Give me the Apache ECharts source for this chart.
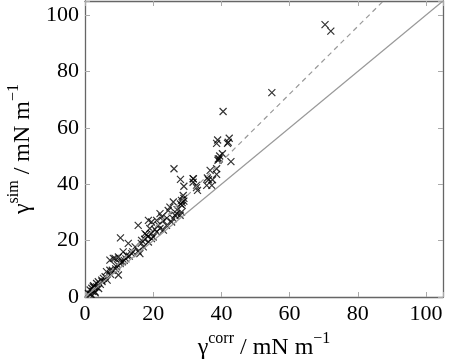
<!DOCTYPE html>
<html>
<head>
<meta charset="utf-8">
<script src="https://cdn.jsdelivr.net/npm/echarts@6/dist/echarts.min.js"></script>
<style>
  html, body { margin: 0; padding: 0; background: #fff; }
  #chart { width: 449px; height: 363px; }
</style>
</head>
<body>
<div id="chart"></div>
<script>
// scatter points: gamma corr (x) vs gamma sim (y), mN/m
var corrVals = [70.4, 72.1, 54.8, 40.5, 38.9, 42.3, 38.6, 41.8, 40.3, 39.4, 42.8, 36.7, 38.6, 38.6,
  35.9, 31.7, 31.7, 35.7, 37.2, 32.7, 26.1, 28.0, 29.0, 31.8, 32.7, 33.0, 37.4, 36.2, 39.1,
  42.0, 28.3, 28.8, 25.9, 24.9, 24.4, 26.9, 27.9, 28.3, 22.0, 22.5, 21.0, 18.6, 19.5, 15.6,
  10.4, 19.0, 17.6, 21.0, 22.0, 20.0, 16.6, 14.7, 12.7, 13.7, 11.2, 9.8, 8.3, 12.2, 10.3,
  9.3, 9.8, 7.3, 5.9, 4.9, 3.4, 2.4, 1.5, 1.0, 2.9, 3.4, 2.0, 15.6, 16.1, 17.1, 18.6, 19.5,
  23.0, 23.9, 25.4, 25.9, 26.4, 7.3, 8.8, 6.3, 5.4, 3.9, 28.5, 29.0, 18.0, 11.0, 2.5, 1.8,
  1.5, 2.2, 2.8, 3.0, 4.0, 4.5, 5.0, 6.5, 7.5, 8.0, 9.0, 9.5, 10.5, 11.5, 12.0, 13.0, 14.0,
  16.5, 17.5, 18.5, 19.5, 20.5, 21.5, 23.0, 24.0, 27.0, 28.5, 29.0, 28.0, 39.0, 39.5];
var simVals = [96.6, 94.3, 72.5, 65.8, 55.7, 56.3, 54.5, 54.5, 50.8, 49.0, 48.0, 44.9, 45.5, 43.5,
  42.2, 42.0, 40.7, 39.6, 39.6, 39.6, 45.5, 41.7, 39.3, 41.9, 38.8, 37.8, 41.6, 41.6, 49.0,
  54.9, 34.3, 36.0, 33.7, 31.9, 30.7, 29.6, 29.0, 30.1, 29.6, 28.4, 27.2, 27.2, 26.6, 25.4,
  21.0, 24.3, 22.5, 23.1, 24.3, 21.3, 20.1, 17.8, 19.0, 15.4, 16.0, 14.2, 13.7, 14.8, 11.9,
  10.7, 7.8, 9.5, 7.2, 6.0, 4.8, 3.6, 2.5, 1.3, 1.9, 3.6, 3.1, 16.3, 15.4, 17.8, 19.5, 20.7,
  23.7, 25.4, 26.6, 27.8, 29.0, 13.1, 13.7, 9.0, 6.6, 5.4, 33.5, 35.0, 22.0, 12.5, 4.0, 1.0,
  1.0, 2.0, 3.5, 1.5, 3.0, 4.5, 5.5, 6.0, 8.0, 9.5, 10.0, 11.5, 12.5, 13.0, 13.5, 14.5, 16.0,
  19.0, 20.5, 21.5, 22.5, 24.0, 25.5, 27.0, 28.0, 31.0, 32.5, 34.0, 33.0, 48.5, 50.0];
// reference lines
var parityLine = [[0, 0], [105, 105]];
var fitLine = [[0, 0], [87.5, 105]];
var tickVals = [0, 20, 40, 60, 80, 100];

var points = corrVals.map(function (c, i) { return [c, simVals[i]]; });

var serif = 'Liberation Serif';
var chart = echarts.init(document.getElementById('chart'));

function mkAxis(pos, show, nameTxt) {
  return {
    type: 'value', position: pos, min: 0, max: 105, interval: 20,
    axisLine: { show: true, onZero: false, lineStyle: { color: '#666', width: 1.3 } },
    axisTick: { show: true, inside: true, length: 5, lineStyle: { color: '#aaa' } },
    axisLabel: {
      show: show, fontFamily: serif, fontSize: 22, color: '#000', margin: 6,
      customValues: tickVals
    },
    splitLine: { show: false },
    name: nameTxt || '',
    nameLocation: 'middle'
  };
}

var richTitle = {
  b: { fontFamily: serif, fontSize: 24, color: '#000', lineHeight: 30, verticalAlign: 'bottom' },
  s: { fontFamily: serif, fontSize: 16, color: '#000', lineHeight: 30, verticalAlign: 'top', padding: [1, 0, 0, 0] }
};

var xMain = mkAxis('bottom', true, '{b|γ}{s|corr}{b| / mN m}{s|−1}');
xMain.nameGap = 32;
xMain.nameTextStyle = { rich: richTitle };
var yMain = mkAxis('left', true, '{b|γ}{s|sim}{b| / mN m}{s|−1}');
yMain.nameGap = 50;
yMain.nameTextStyle = { rich: richTitle };

chart.setOption({
  animation: false,
  grid: { left: 85, right: 6, top: 1, bottom: 66, containLabel: false, outerBoundsMode: 'none' },
  xAxis: [xMain, mkAxis('top', false)],
  yAxis: [yMain, mkAxis('right', false)],
  series: [
    {
      type: 'line', data: parityLine, symbol: 'none',
      lineStyle: { color: '#999', width: 1.2 }
    },
    {
      type: 'line', data: fitLine, symbol: 'none',
      lineStyle: { color: '#999', width: 1.2, type: [5, 4] }
    },
    {
      type: 'scatter', data: points,
      symbol: 'path://M0,0L10,10M10,0L0,10', symbolSize: 7,
      itemStyle: { color: 'transparent', borderColor: '#000', borderWidth: 1.2 }
    }
  ]
});
</script>
</body>
</html>
